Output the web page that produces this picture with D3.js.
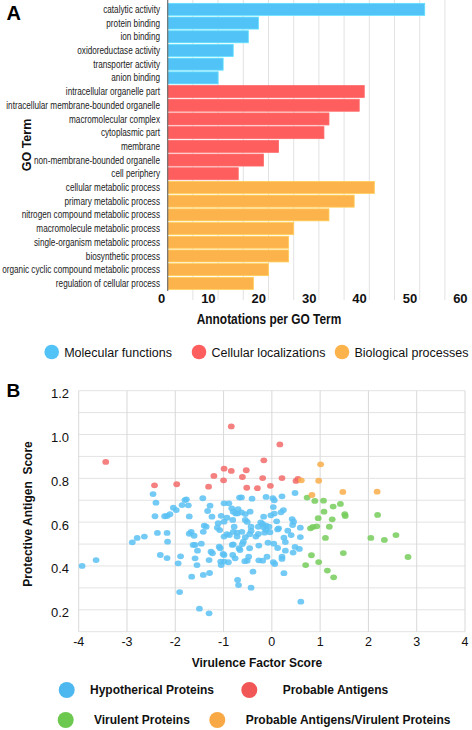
<!DOCTYPE html>
<html><head><meta charset="utf-8">
<script src="https://cdn.jsdelivr.net/npm/d3@7"></script>
<style>
html,body{margin:0;padding:0;background:#fff;}
svg{display:block;font-family:"Liberation Sans",Arial,sans-serif;}
</style></head>
<body>
<svg id="chart" width="472" height="730"></svg>
<script>
// ---------- Panel A data ----------
const goTerms = ["catalytic activity","protein binding","ion binding","oxidoreductase activity","transporter activity","anion binding",
"intracellular organelle part","intracellular membrane-bounded organelle","macromolecular complex","cytoplasmic part","membrane","non-membrane-bounded organelle","cell periphery",
"cellular metabolic process","primary metabolic process","nitrogen compound metabolic process","macromolecule metabolic process","single-organism metabolic process","biosynthetic process","organic cyclic compound metabolic process","regulation of cellular process"];
const goCounts = [51,18,16,13,11,10, 39,38,32,31,22,19,14, 41,37,32,25,24,24,20,17];
const goGroups = ["MF","MF","MF","MF","MF","MF","CL","CL","CL","CL","CL","CL","CL","BP","BP","BP","BP","BP","BP","BP","BP"];
const groupKeys = ["MF","CL","BP"];
const groupNames = ["Molecular functions","Cellular localizations","Biological processes"];
const groupColors = ["#52c3f7","#fe5e5e","#fdb34b"];
const xTicksA = [0,10,20,30,40,50,60];
const gridA = [5,10,15,20,25,30,35,40,45,50,55];

// ---------- Panel B data ----------
const hypothetical = [
[-3.93,0.40],[-3.64,0.427],[-2.89,0.508],[-2.79,0.528],[-2.64,0.534],
[-2.46,0.728],[-2.40,0.689],[-2.42,0.627],[-2.37,0.551],[-2.31,0.45],
[-2.22,0.627],[-2.17,0.628],[-2.11,0.636],[-2.04,0.666],[-1.98,0.655],
[-2.17,0.551],[-2.16,0.511],[-2.17,0.436],[-1.94,0.412],[-1.89,0.444],[-1.91,0.281],
[-1.86,0.678],[-1.80,0.701],[-1.77,0.704],[-1.73,0.677],[-1.71,0.626],
[-1.71,0.547],[-1.67,0.556],[-1.61,0.538],[-1.63,0.496],[-1.59,0.496],
[-1.54,0.47],[-1.59,0.435],[-1.55,0.404],[-1.66,0.351],[-1.50,0.205],
[-1.43,0.709],[-1.46,0.502],[-1.40,0.584],[-1.42,0.556],[-1.36,0.579],[-1.42,0.359],
[-1.30,0.427],[-1.30,0.184],[-1.29,0.368],[-1.28,0.675],[-1.33,0.651],[-1.24,0.625],
[-1.26,0.465],[-1.23,0.458],[-1.11,0.595],[-1.13,0.575],[-1.08,0.564],[-1.05,0.629],
[-0.99,0.686],[-0.89,0.686],[-0.83,0.663],[-0.99,0.602],[-0.93,0.62],[-0.81,0.61],[-0.75,0.64],
[-0.99,0.534],[-0.93,0.545],[-0.88,0.541],[-0.80,0.556],
[-1.09,0.488],[-1.07,0.481],[-0.99,0.45],[-1.01,0.455],[-1.06,0.42],[-0.99,0.42],[-1.05,0.404],[-0.90,0.417],
[-0.82,0.496],[-0.80,0.499],[-0.81,0.45],[-0.76,0.435],[-0.71,0.64],[-0.67,0.712],[-0.71,0.336],[-0.69,0.313],
[-0.70,0.659],[-0.80,0.648],[-0.72,0.552],[-0.72,0.534],[-0.68,0.481],[-0.78,0.579],
[0.21,0.718],[0.48,0.733],[0.02,0.71],[0.05,0.70],[-0.12,0.715],[-0.41,0.707],[-0.63,0.713],
[0.03,0.669],[0.24,0.655],[0.19,0.645],[0.42,0.614],[0.45,0.602],[0.43,0.587],[0.59,0.575],
[0.59,0.532],[0.40,0.541],[0.33,0.561],[0.25,0.529],[0.28,0.509],[0.48,0.487],[0.57,0.478],
[0.44,0.461],[0.28,0.470],[0.21,0.442],[0.21,0.432],[0.03,0.417],[0.06,0.409],[0.25,0.367],
[0.60,0.237],[0.12,0.482],[0.04,0.502],[-0.08,0.506],[0.12,0.567],[0.05,0.639],[-0.02,0.631],
[-0.17,0.625],[-0.45,0.648],[-0.55,0.637],[-0.63,0.645],[-0.55,0.61],[-0.51,0.601],[-0.43,0.579],
[-0.43,0.56],[-0.28,0.579],[-0.23,0.599],[-0.19,0.592],[-0.17,0.577],[-0.12,0.584],[-0.12,0.564],
[-0.15,0.552],[-0.06,0.579],[-0.04,0.554],[-0.28,0.546],[-0.33,0.534],[-0.62,0.556],[-0.46,0.545],
[-0.55,0.531],[-0.59,0.511],[-0.61,0.50],[-0.66,0.473],[-0.46,0.481],[-0.27,0.493],[-0.48,0.442],
[-0.51,0.424],[-0.56,0.422],[-0.27,0.426],[-0.19,0.424],[-0.10,0.442],[-0.39,0.374],[-0.43,0.301],
[0.10,0.604],[0.14,0.572]
];
const antigens = [
[-3.44,0.875],[-2.43,0.768],[-1.97,0.773],[-1.31,0.762],[-1.20,0.811],[-0.99,0.844],[-1.00,0.791],
[-0.84,0.834],[-0.84,1.037],[-0.53,0.837],[-0.61,0.806],[0.166,0.955],[-0.166,0.882],[-0.19,0.801],
[0.21,0.801],[0.50,0.788],[0.54,0.797],[-0.52,0.757],[-0.30,0.755],[-0.03,0.766]
];
const virulent = [
[0.73,0.712],[0.89,0.697],[1.07,0.698],[1.27,0.671],[1.42,0.683],[1.08,0.648],[1.51,0.636],[1.52,0.628],
[2.19,0.633],[0.96,0.618],[1.25,0.613],[0.80,0.572],[0.85,0.578],[0.93,0.581],[1.19,0.579],[1.11,0.528],
[2.05,0.528],[2.33,0.519],[2.57,0.541],[0.82,0.449],[1.48,0.459],[2.82,0.441],[0.70,0.404],[0.97,0.418],
[1.15,0.379],[1.28,0.348]
];
const antigenVirulent = [[1.01,0.864],[0.61,0.791],[0.97,0.789],[0.83,0.724],[1.47,0.738],[2.18,0.739]];
const seriesB = [
 {name:"Hypotherical Proteins", data:hypothetical, color:"#5bc1f3", legend:"#4db8ef"},
 {name:"Probable Antigens", data:antigens, color:"#f26a6a", legend:"#f25757"},
 {name:"Virulent Proteins", data:virulent, color:"#76cc5c", legend:"#6cc84f"},
 {name:"Probable Antigens/Virulent Proteins", data:antigenVirulent, color:"#f9ad4a", legend:"#f8a845"}
];
const xTicksB = [-4,-3,-2,-1,0,1,2,3,4];
const yTicksB = [0.2,0.4,0.6,0.8,1.0,1.2];
const yGridB = [0.1,0.2,0.3,0.4,0.5,0.6,0.7,0.8,0.9,1.0,1.1,1.2];

const svg = d3.select("#chart");

// ================= Panel A =================
const xA = d3.scaleLinear().domain([0,60]).range([167.7,470.1]);
const yA = d3.scaleBand().domain(goTerms).range([2.5,290.2]).paddingInner(0.124).paddingOuter(0.062);
const colA = d3.scaleOrdinal().domain(groupKeys).range(groupColors);
const gA = svg.append("g");

gA.selectAll("line.grid").data(gridA).join("line")
  .attr("x1",d=>xA(d)).attr("x2",d=>xA(d)).attr("y1",0).attr("y2",300)
  .attr("stroke","#e2e2e2").attr("stroke-width",1);

gA.selectAll("rect.bar").data(goTerms).join("rect")
  .attr("x",xA(0)).attr("y",d=>yA(d))
  .attr("width",(d,i)=>xA(goCounts[i])-xA(0))
  .attr("height",yA.bandwidth())
  .attr("fill",(d,i)=>colA(goGroups[i]))
  .attr("stroke",(d,i)=>d3.color(colA(goGroups[i])).brighter(0.4))
  .attr("stroke-width",0.8);

gA.append("line").attr("x1",xA(0)).attr("x2",xA(0)).attr("y1",0).attr("y2",291)
  .attr("stroke","#6f6f6f").attr("stroke-width",1.2);

const lab = gA.append("g").attr("transform","translate(160,0) scale(0.78,1)");
lab.selectAll("text").data(goTerms).join("text")
  .attr("x",0).attr("y",d=>yA(d)+yA.bandwidth()/2+3.6)
  .attr("text-anchor","end").attr("font-size",10.5).attr("fill","#1a1a1a")
  .text(d=>d);

gA.selectAll("text.tick").data(xTicksA).join("text")
  .attr("x",d=>xA(d)-2.5).attr("y",302.5)
  .attr("text-anchor","end").attr("font-size",13).attr("font-weight","bold").attr("fill","#111")
  .text(d=>d);

gA.append("text").attr("transform","translate(269,324) scale(0.85,1)")
  .attr("text-anchor","middle").attr("font-size",14).attr("font-weight","bold").attr("fill","#111")
  .text("Annotations per GO Term");

gA.append("text").attr("transform","translate(30.5,145) rotate(-90)")
  .attr("text-anchor","middle").attr("font-size",12.5).attr("font-weight","bold").attr("fill","#111")
  .text("GO Term");

svg.append("text").attr("x",6.5).attr("y",19.5).attr("font-size",20).attr("font-weight","bold").attr("fill","#000").text("A");

// Legend A
const legAx = [51.7,199,342];
const legA = svg.append("g");
groupKeys.forEach((k,i)=>{
  legA.append("circle").attr("cx",legAx[i]).attr("cy",352).attr("r",7.3).attr("fill",groupColors[i]);
  legA.append("text").attr("x",legAx[i]+12.5).attr("y",356.5).attr("font-size",12.5).attr("fill","#111").text(groupNames[i]);
});

// ================= Panel B =================
const xB = d3.scaleLinear().domain([-4,4]).range([78.7,465]);
const yB = d3.scaleLinear().domain([0.1,1.2]).range([631.7,390.7]);
const gB = svg.append("g");

gB.selectAll("line.hg").data(yGridB).join("line")
  .attr("x1",xB(-4)).attr("x2",xB(4)).attr("y1",d=>yB(d)).attr("y2",d=>yB(d))
  .attr("stroke","#e3e3e3").attr("stroke-width",1);
gB.selectAll("line.vg").data(xTicksB).join("line")
  .attr("x1",d=>xB(d)).attr("x2",d=>xB(d)).attr("y1",yB(1.2)).attr("y2",yB(0.1))
  .attr("stroke","#d9d9d9").attr("stroke-width",1);

seriesB.forEach(s=>{
  gB.append("g").selectAll("ellipse").data(s.data).join("ellipse")
    .attr("cx",d=>xB(d[0])).attr("cy",d=>yB(d[1]))
    .attr("rx",3.4).attr("ry",2.9)
    .attr("fill",s.color).attr("fill-opacity",0.85);
});

gB.selectAll("text.xt").data(xTicksB).join("text")
  .attr("x",d=>xB(d)).attr("y",646)
  .attr("text-anchor","middle").attr("font-size",12.5).attr("fill","#111")
  .text(d=>d);
gB.selectAll("text.yt").data(yTicksB).join("text")
  .attr("x",69).attr("y",d=>yB(d)+7.5)
  .attr("text-anchor","end").attr("font-size",13).attr("fill","#111")
  .text(d=>d3.format(".1f")(d));

gB.append("text").attr("x",257).attr("y",666.5).attr("text-anchor","middle")
  .attr("font-size",12).attr("font-weight","bold").attr("fill","#111").text("Virulence Factor Score");
gB.append("text").attr("transform","translate(32,514) rotate(-90)").attr("text-anchor","middle")
  .attr("font-size",12).attr("font-weight","bold").attr("fill","#111").style("white-space","pre")
  .text("Protective Antigen  Score");

svg.append("text").attr("x",6.5).attr("y",396.7).attr("font-size",19).attr("font-weight","bold").attr("fill","#000").text("B");

// Legend B
const legBpos = [[66.7,690,90],[249.3,690,282.7],[65.7,720,94],[217.3,720,245.7]];
seriesB.forEach((s,i)=>{
  const p = legBpos[i];
  svg.append("circle").attr("cx",p[0]).attr("cy",p[1]).attr("r",8).attr("fill",s.legend);
  svg.append("text").attr("x",p[2]).attr("y",p[1]+4.2).attr("font-size",12).attr("font-weight","bold").attr("fill","#111").text(s.name);
});
</script>
</body></html>
